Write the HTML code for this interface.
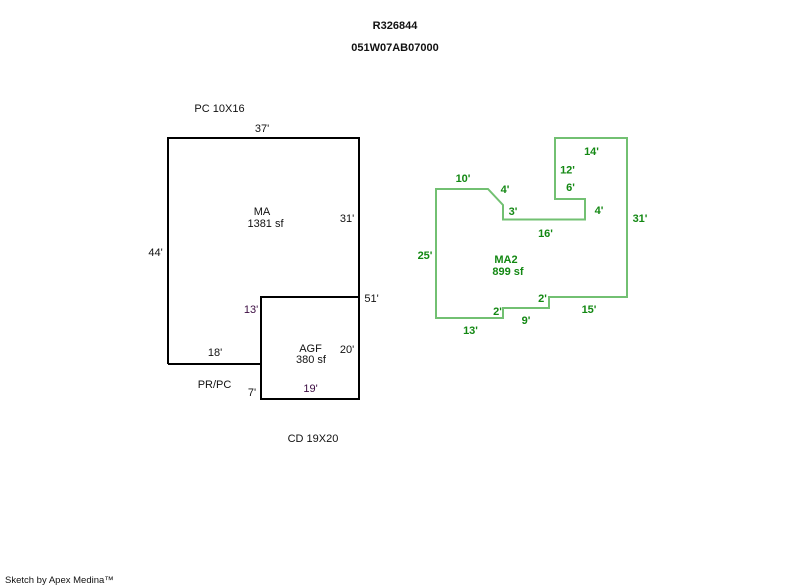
<!DOCTYPE html>
<html><head><meta charset="utf-8"><style>
html,body{margin:0;padding:0;background:#fff;}
svg{display:block;}
text{font-family:"Liberation Sans",Arial,sans-serif;font-size:11px;}
.b{fill:#111;}
.p{fill:#3a0a40;}
.g{fill:#138813;font-weight:bold;}
.t{fill:#111;font-weight:bold;}
</style></head><body>
<svg width="800" height="587" viewBox="0 0 800 587" xmlns="http://www.w3.org/2000/svg">
<rect width="800" height="587" fill="#fff"/>
<text class="t" x="395" y="29" text-anchor="middle">R326844</text>
<text class="t" x="395" y="51" text-anchor="middle">051W07AB07000</text>

<!-- MA and AGF -->
<polyline points="168,364 168,138 359,138 359,297 261,297 261,364 168,364" fill="none" stroke="#000" stroke-width="2" stroke-linejoin="miter"/>
<rect x="261" y="297" width="98" height="102" fill="none" stroke="#000" stroke-width="2"/>

<text class="b" x="219.5" y="112" text-anchor="middle">PC 10X16</text>
<text class="b" x="262" y="132" text-anchor="middle">37'</text>
<text class="b" x="262" y="215" text-anchor="middle">MA</text>
<text class="b" x="265.5" y="227" text-anchor="middle">1381 sf</text>
<text class="b" x="347" y="222" text-anchor="middle">31'</text>
<text class="b" x="155.5" y="256" text-anchor="middle">44'</text>
<text class="b" x="371.5" y="302" text-anchor="middle">51'</text>
<text class="p" x="251" y="313" text-anchor="middle">13'</text>
<text class="b" x="215" y="356" text-anchor="middle">18'</text>
<text class="b" x="310.5" y="352" text-anchor="middle">AGF</text>
<text class="b" x="311" y="363" text-anchor="middle">380 sf</text>
<text class="b" x="347" y="353" text-anchor="middle">20'</text>
<text class="b" x="214.5" y="388" text-anchor="middle">PR/PC</text>
<text class="b" x="252" y="396" text-anchor="middle">7'</text>
<text class="p" x="310.5" y="392" text-anchor="middle">19'</text>
<text class="b" x="313" y="442" text-anchor="middle">CD 19X20</text>

<!-- MA2 -->
<polygon points="436,189 488,189 503,205 503,219.5 585,219.5 585,199 555,199 555,138 627,138 627,297 549,297 549,308 503,308 503,318 436,318" fill="none" stroke="#72c072" stroke-width="2"/>

<text class="g" x="591.5" y="155" text-anchor="middle">14'</text>
<text class="g" x="567.5" y="173.5" text-anchor="middle">12'</text>
<text class="g" x="570.5" y="191" text-anchor="middle">6'</text>
<text class="g" x="463" y="182" text-anchor="middle">10'</text>
<text class="g" x="505" y="193" text-anchor="middle">4'</text>
<text class="g" x="513" y="215" text-anchor="middle">3'</text>
<text class="g" x="599" y="214" text-anchor="middle">4'</text>
<text class="g" x="640" y="222" text-anchor="middle">31'</text>
<text class="g" x="545.5" y="237" text-anchor="middle">16'</text>
<text class="g" x="425" y="259" text-anchor="middle">25'</text>
<text class="g" x="506" y="263" text-anchor="middle">MA2</text>
<text class="g" x="508" y="275" text-anchor="middle">899 sf</text>
<text class="g" x="542.5" y="302" text-anchor="middle">2'</text>
<text class="g" x="589" y="313" text-anchor="middle">15'</text>
<text class="g" x="497.5" y="315" text-anchor="middle">2'</text>
<text class="g" x="526" y="324" text-anchor="middle">9'</text>
<text class="g" x="470.5" y="334" text-anchor="middle">13'</text>

<text class="b" x="5" y="583" style="font-size:9.5px">Sketch by Apex Medina™</text>
</svg>
</body></html>
